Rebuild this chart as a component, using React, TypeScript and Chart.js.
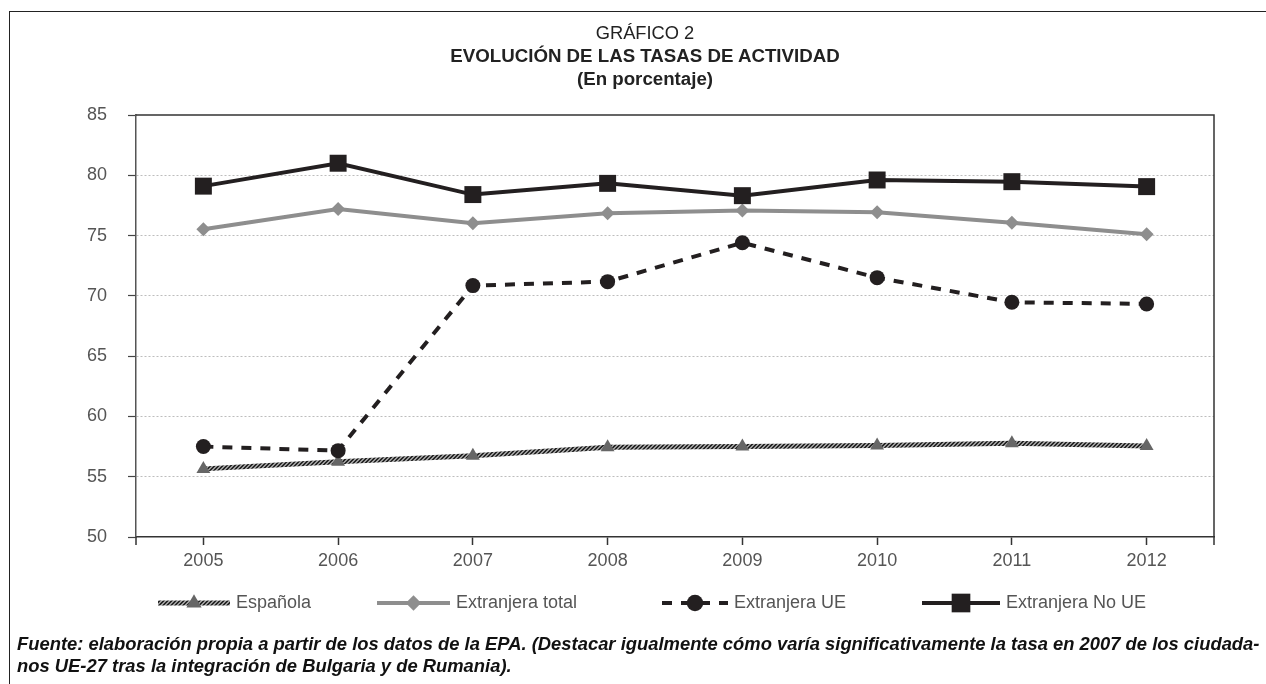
import { useEffect, useRef } from "react";
import { Chart, registerables } from "chart.js";

Chart.register(...registerables);

// Activity rates by nationality, 2005-2012 (percent)
const years = ["2005", "2006", "2007", "2008", "2009", "2010", "2011", "2012"];
const espanola = [55.65, 56.25, 56.73, 57.45, 57.5, 57.58, 57.78, 57.55];
const extranjeraTotal = [75.52, 77.2, 76.02, 76.85, 77.07, 76.93, 76.07, 75.1];
const extranjeraUE = [57.5, 57.16, 70.85, 71.18, 74.41, 71.51, 69.47, 69.33];
const extranjeraNoUE = [79.1, 81.0, 78.4, 79.33, 78.31, 79.61, 79.47, 79.06];

const seriesNames = ["Española", "Extranjera total", "Extranjera UE", "Extranjera No UE"];
const yMin = 50;
const yMax = 85;
const yStep = 5;

const titleLines = ["GRÁFICO 2", "EVOLUCIÓN DE LAS TASAS DE ACTIVIDAD", "(En porcentaje)"];
const footerLines = [
  "Fuente: elaboración propia a partir de los datos de la EPA. (Destacar igualmente cómo varía significativamente la tasa en 2007 de los ciudada-",
  "nos UE-27 tras la integración de Bulgaria y de Rumania).",
];

const FONT = '"Liberation Sans", Arial, Helvetica, sans-serif';

// Twisted-rope texture used for the "Española" line
function makeRopePattern(): CanvasPattern | string {
  const c = document.createElement("canvas");
  c.width = 4;
  c.height = 4;
  const g = c.getContext("2d");
  if (!g) return "#555";
  g.fillStyle = "#9c9c9c";
  g.fillRect(0, 0, 4, 4);
  g.fillStyle = "#262626";
  for (let i = 0; i < 4; i++) {
    g.fillRect(i, 3 - i, 1, 1);
    g.fillRect((i + 1) % 4, 3 - i, 1, 1);
  }
  const p = g.createPattern(c, "repeat");
  return p || "#555";
}

function drawMarker(ctx: CanvasRenderingContext2D, style: string, x: number, y: number, r: number, color: string) {
  ctx.save();
  ctx.fillStyle = color;
  ctx.beginPath();
  if (style === "triangle") {
    ctx.moveTo(x, y - r);
    ctx.lineTo(x + r * 0.866, y + r * 0.5);
    ctx.lineTo(x - r * 0.866, y + r * 0.5);
    ctx.closePath();
  } else if (style === "rectRot") {
    ctx.moveTo(x, y - r);
    ctx.lineTo(x + r, y);
    ctx.lineTo(x, y + r);
    ctx.lineTo(x - r, y);
    ctx.closePath();
  } else if (style === "rect") {
    const s = r * Math.SQRT1_2;
    ctx.rect(x - s, y - s, 2 * s, 2 * s);
  } else {
    ctx.arc(x, y, r, 0, Math.PI * 2);
  }
  ctx.fill();
  ctx.restore();
}

// Frame on top and right of the plot, plus end ticks below the x axis
const plotFrame = {
  id: "plotFrame",
  afterDraw(chart: any) {
    const { ctx, chartArea } = chart;
    const { left, right, top, bottom } = chartArea;
    ctx.save();
    ctx.strokeStyle = "#333";
    ctx.lineWidth = 1.5;
    ctx.beginPath();
    ctx.moveTo(left, top);
    ctx.lineTo(right, top);
    ctx.lineTo(right, bottom + 8);
    ctx.moveTo(left, bottom);
    ctx.lineTo(left, bottom + 8);
    ctx.stroke();
    ctx.restore();
  },
};

// Legend with line sample and marker for each series
const lineLegend = {
  id: "lineLegend",
  afterDraw(chart: any) {
    const { ctx } = chart;
    const xs = [158, 377, 662, 922];
    const lens = [72, 73, 66, 78];
    const y = 603;
    chart.data.datasets.forEach((ds: any, i: number) => {
      const x = xs[i];
      const len = lens[i];
      ctx.save();
      ctx.strokeStyle = ds.borderColor;
      ctx.lineWidth = ds.borderWidth;
      ctx.setLineDash(ds.borderDash || []);
      ctx.beginPath();
      ctx.moveTo(x, y);
      ctx.lineTo(x + len, y);
      ctx.stroke();
      ctx.restore();
      drawMarker(ctx, ds.pointStyle, x + len / 2, y, ds.pointRadius * 1.1, ds.pointBackgroundColor);
      ctx.save();
      ctx.fillStyle = "#555";
      ctx.font = `18px ${FONT}`;
      ctx.textBaseline = "middle";
      ctx.fillText(ds.label, x + len + 6, y);
      ctx.restore();
    });
  },
};

export default function App() {
  const ref = useRef<HTMLCanvasElement | null>(null);

  useEffect(() => {
    if (!ref.current) return;
    const rope = makeRopePattern();
    const chart = new Chart(ref.current, {
      type: "line",
      data: {
        labels: years,
        datasets: [
          {
            label: seriesNames[0],
            data: espanola,
            borderColor: rope as any,
            borderWidth: 5,
            pointStyle: "triangle",
            pointRadius: 8,
            pointBackgroundColor: "#666",
            pointBorderWidth: 0,
            order: 3,
          },
          {
            label: seriesNames[1],
            data: extranjeraTotal,
            borderColor: "#8e8e8e",
            borderWidth: 4,
            pointStyle: "rectRot",
            pointRadius: 7,
            pointBackgroundColor: "#8e8e8e",
            pointBorderWidth: 0,
            order: 2,
          },
          {
            label: seriesNames[2],
            data: extranjeraUE,
            borderColor: "#231f20",
            borderWidth: 4,
            borderDash: [10, 9],
            pointStyle: "circle",
            pointRadius: 7.5,
            pointBackgroundColor: "#231f20",
            pointBorderWidth: 0,
            order: 0,
          },
          {
            label: seriesNames[3],
            data: extranjeraNoUE,
            borderColor: "#231f20",
            borderWidth: 4,
            pointStyle: "rect",
            pointRadius: 12,
            pointBackgroundColor: "#231f20",
            pointBorderWidth: 0,
            order: 1,
          },
        ],
      },
      options: {
        responsive: false,
        animation: false,
        layout: { padding: { left: 0, right: 52, top: 115, bottom: 117 } },
        plugins: {
          legend: { display: false },
          tooltip: { enabled: false },
          title: { display: false },
        },
        elements: { line: { tension: 0 } },
        scales: {
          x: {
            type: "category",
            offset: true,
            grid: {
              drawOnChartArea: false,
              drawTicks: true,
              tickLength: 8,
              tickColor: "#333",
              tickWidth: 1.5,
              offset: false,
            },
            border: { display: true, color: "#333", width: 1.5 },
            ticks: {
              color: "#555",
              font: { family: FONT, size: 18 },
              padding: 5,
              maxRotation: 0,
            },
            afterFit: (s: any) => {
              s.height = 30;
            },
          },
          y: {
            min: yMin,
            max: yMax,
            ticks: {
              stepSize: yStep,
              color: "#555",
              font: { family: FONT, size: 18 },
              padding: 21,
            },
            grid: {
              color: (c: any) =>
                c.tick && (c.tick.value === yMin || c.tick.value === yMax) ? "rgba(0,0,0,0)" : "#bdbdbd",
              tickColor: "#444",
              tickLength: 8,
              tickWidth: 1.2,
              lineWidth: 1,
            },
            border: { display: true, color: "#555", width: 1.5, dash: [2, 2] },
            afterFit: (s: any) => {
              s.width = 136;
            },
          },
        },
      },
      plugins: [plotFrame, lineLegend],
    });
    return () => chart.destroy();
  }, []);

  return (
    <div
      style={{
        position: "fixed",
        left: 0,
        top: 0,
        width: 1266,
        height: 684,
        background: "#fff",
        overflow: "hidden",
        fontFamily: FONT,
      }}
    >
      <div
        style={{
          position: "absolute",
          left: 9,
          top: 11,
          width: 1400,
          height: 800,
          borderLeft: "1.5px solid #222",
          borderTop: "1.5px solid #222",
        }}
      />
      <canvas ref={ref} width={1266} height={684} style={{ position: "absolute", left: 0, top: 0 }} />
      {titleLines.map((t, i) => (
        <div
          key={t}
          style={{
            position: "absolute",
            left: 0,
            width: 1290,
            top: 22 + i * 23,
            lineHeight: "22px",
            textAlign: "center",
            fontSize: i === 0 ? 18.3 : 18.7,
            fontWeight: i === 0 ? "normal" : "bold",
            color: "#222",
          }}
        >
          {t}
        </div>
      ))}
      {footerLines.map((t, i) => (
        <div
          key={t}
          style={{
            position: "absolute",
            left: 17,
            top: 633 + i * 22,
            lineHeight: "22px",
            whiteSpace: "nowrap",
            fontSize: 18.4,
            fontWeight: "bold",
            fontStyle: "italic",
            color: "#111",
          }}
        >
          {t}
        </div>
      ))}
    </div>
  );
}
